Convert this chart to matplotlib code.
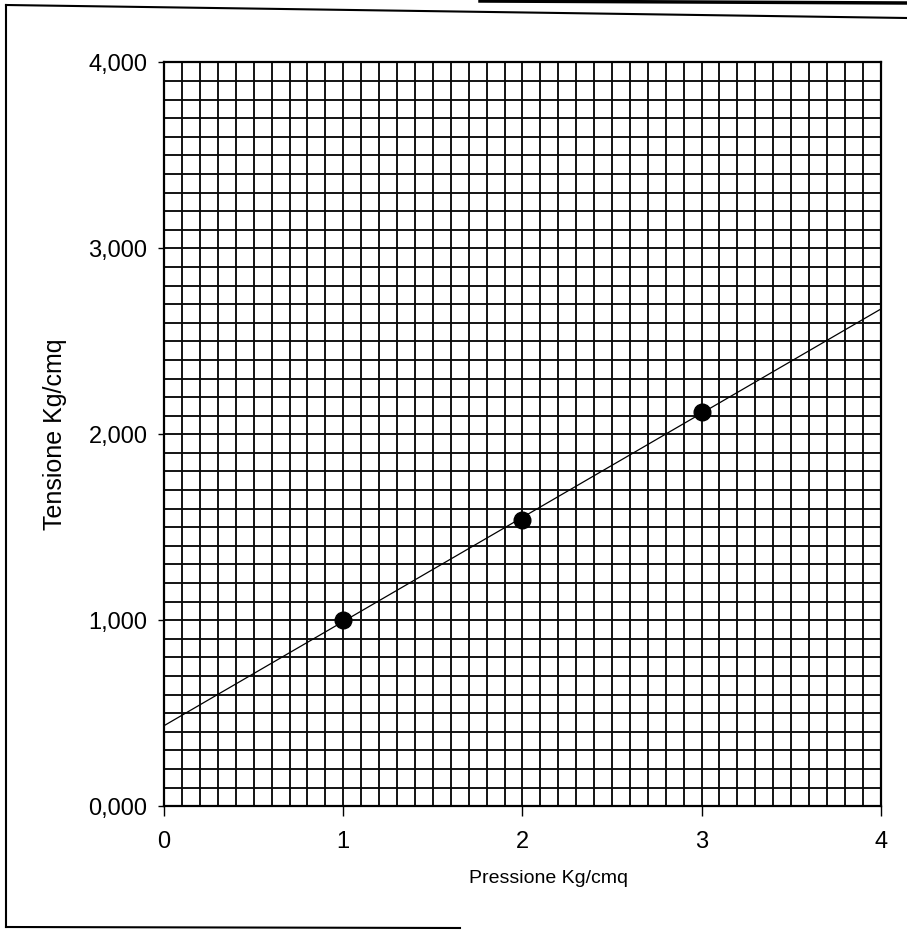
import numpy as np
import matplotlib
matplotlib.use("Agg")
from matplotlib import pyplot as plt
from matplotlib.lines import Line2D
from matplotlib.ticker import MultipleLocator, FuncFormatter

# dati
pressione = [1, 2, 3]              # Kg/cmq
tensione = [1.00, 1.54, 2.12]      # Kg/cmq
x_ticks = [0, 1, 2, 3, 4]
y_ticks = [0, 1, 2, 3, 4]

plt.rcParams['font.family'] = ['Liberation Sans', 'DejaVu Sans']

fig = plt.figure(figsize=(9.07, 9.32), dpi=100)
ax = fig.add_axes([0.181, 0.135, 0.79, 0.798])

# retta di regressione
m, q = np.polyfit(pressione, tensione, 1)
xx = np.array([0, 4])
ax.plot(xx, m * xx + q, color='black', lw=0.9, zorder=3)

ax.plot(pressione, tensione, 'o', color='black', markersize=12, zorder=4)

ax.set_xlim(0, 4)
ax.set_ylim(0, 4)
ax.set_xticks(x_ticks)
ax.set_yticks(y_ticks)
ax.xaxis.set_minor_locator(MultipleLocator(0.1))
ax.yaxis.set_minor_locator(MultipleLocator(0.1))
ax.grid(which='both', color='#0a0a0a', lw=1.35)
ax.set_axisbelow(True)

ax.yaxis.set_major_formatter(FuncFormatter(lambda v, p: f"{v:.3f}".replace('.', ',')))
ax.tick_params(axis='y', which='major', length=4, width=1, pad=8, labelsize=17)
ax.tick_params(axis='x', which='major', length=7, width=1, pad=11, labelsize=17)
ax.tick_params(which='minor', length=0)

for s in ax.spines.values():
    s.set_linewidth(1.6)

ax.set_xlabel('Pressione Kg/cmq', fontsize=14)
ax.set_ylabel('Tensione Kg/cmq', fontsize=18)
ax.xaxis.set_label_coords(0.536, -0.086)
ax.yaxis.set_label_coords(-0.135, 0.5)

# cornice del foglio
W, H = 907, 932
def fl(x0, y0, x1, y1, lw=1.5):
    fig.add_artist(Line2D([x0 / W, x1 / W], [1 - y0 / H, 1 - y1 / H],
                          color='black', lw=lw, transform=fig.transFigure))

fl(6, 5, 6, 927)
fl(6, 5, 907, 18)
fl(6, 927, 460, 928)
fl(480, 1, 907, 3, lw=2.5)

fig.savefig('out.png', dpi=100)
